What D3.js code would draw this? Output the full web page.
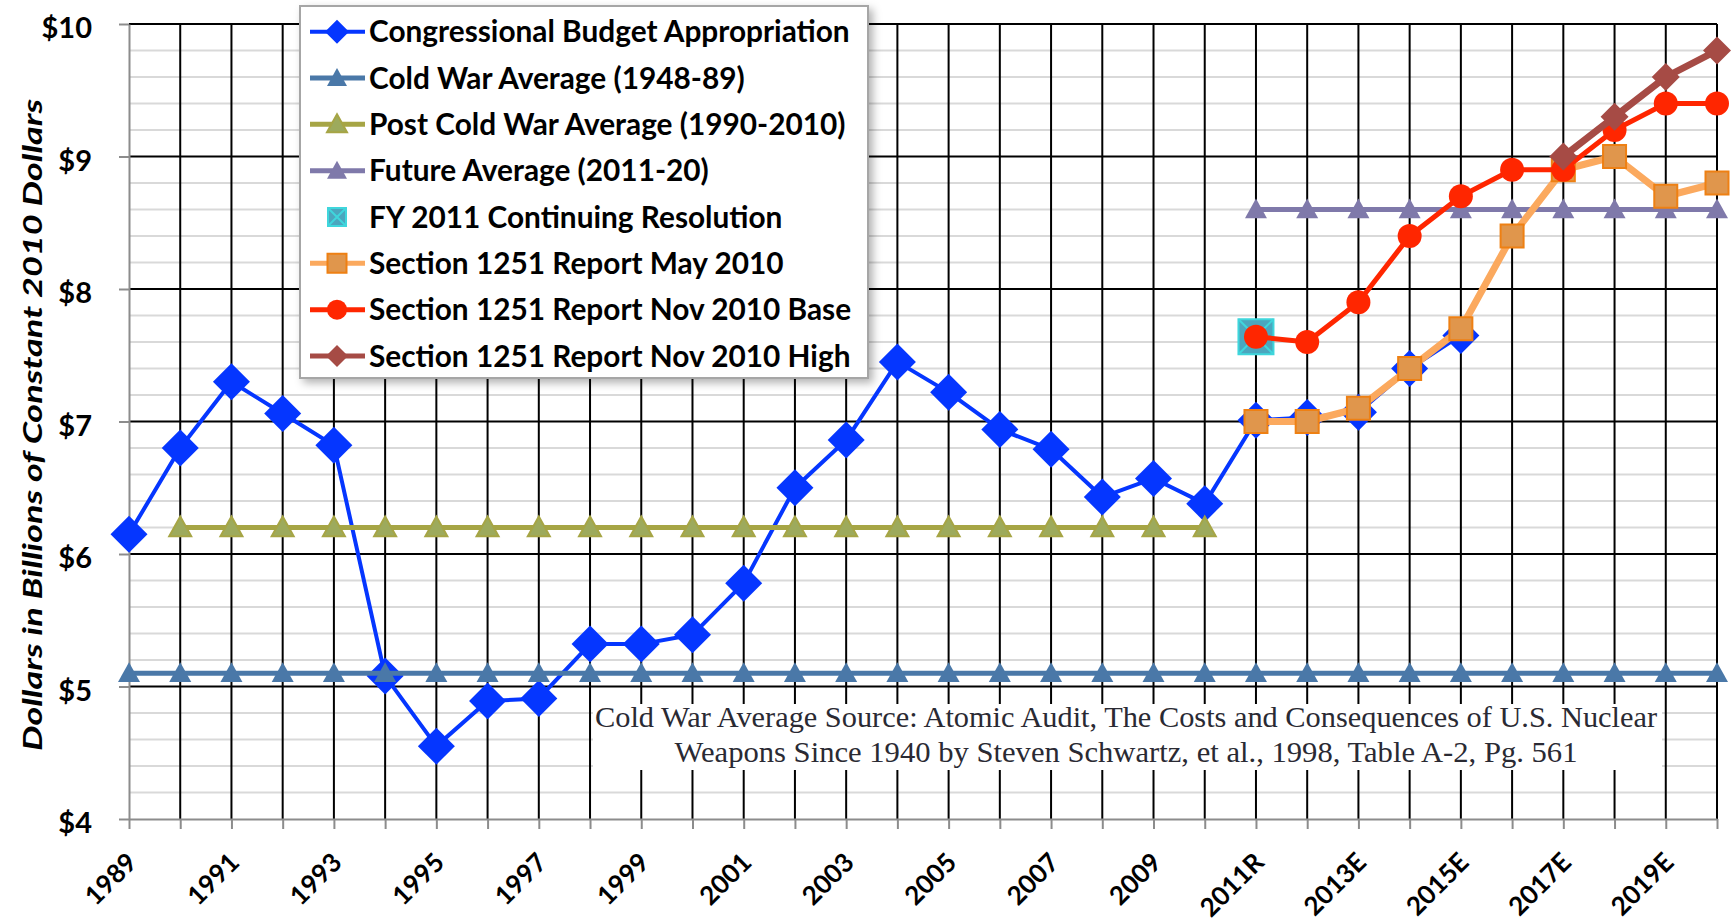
<!DOCTYPE html>
<html>
<head>
<meta charset="utf-8">
<script src="https://cdn.jsdelivr.net/npm/d3@7"></script>
<style>
  body { margin: 0; background: #fff; }
  svg text { font-family: Lato, "Open Sans", sans-serif; }
</style>
</head>
<body>
<svg id="chart" width="1731" height="922"></svg>
<script>
// categories (fiscal years, R = request, E = estimate)
const years = ["1989","1990","1991","1992","1993","1994","1995","1996","1997","1998","1999",
  "2000","2001","2002","2003","2004","2005","2006","2007","2008","2009","2010",
  "2011R","2012E","2013E","2014E","2015E","2016E","2017E","2018E","2019E","2020E"];

// billions of constant 2010 dollars, null where the series has no value
const congressional = [6.15, 6.80, 7.30, 7.06, 6.82, 5.08, 4.55, 4.89, 4.91, 5.32, 5.32,
  5.39, 5.78, 6.50, 6.86, 7.45, 7.22, 6.94, 6.79, 6.43, 6.57, 6.38,
  7.01, 7.03, 7.07, 7.40, 7.65, null, null, null, null, null];
const coldWarAvg = [5.1, 5.1, 5.1, 5.1, 5.1, 5.1, 5.1, 5.1, 5.1, 5.1, 5.1,
  5.1, 5.1, 5.1, 5.1, 5.1, 5.1, 5.1, 5.1, 5.1, 5.1, 5.1,
  5.1, 5.1, 5.1, 5.1, 5.1, 5.1, 5.1, 5.1, 5.1, 5.1];
const postColdWarAvg = [null, 6.2, 6.2, 6.2, 6.2, 6.2, 6.2, 6.2, 6.2, 6.2, 6.2,
  6.2, 6.2, 6.2, 6.2, 6.2, 6.2, 6.2, 6.2, 6.2, 6.2, 6.2,
  null, null, null, null, null, null, null, null, null, null];
const futureAvg = [null, null, null, null, null, null, null, null, null, null, null,
  null, null, null, null, null, null, null, null, null, null, null,
  8.6, 8.6, 8.6, 8.6, 8.6, 8.6, 8.6, 8.6, 8.6, 8.6];
const fy2011CR = [null, null, null, null, null, null, null, null, null, null, null,
  null, null, null, null, null, null, null, null, null, null, null,
  7.64, null, null, null, null, null, null, null, null, null];
const reportMay2010 = [null, null, null, null, null, null, null, null, null, null, null,
  null, null, null, null, null, null, null, null, null, null, null,
  7.0, 7.0, 7.1, 7.4, 7.7, 8.4, 8.9, 9.0, 8.7, 8.8];
const reportNovBase = [null, null, null, null, null, null, null, null, null, null, null,
  null, null, null, null, null, null, null, null, null, null, null,
  7.64, 7.6, 7.9, 8.4, 8.7, 8.9, 8.9, 9.2, 9.4, 9.4];
const reportNovHigh = [null, null, null, null, null, null, null, null, null, null, null,
  null, null, null, null, null, null, null, null, null, null, null,
  null, null, null, null, null, null, 9.0, 9.3, 9.6, 9.8];

const seriesNames = ["Congressional Budget Appropriation", "Cold War Average (1948-89)",
  "Post Cold War Average (1990-2010)", "Future Average (2011-20)", "FY 2011 Continuing Resolution",
  "Section 1251 Report May 2010", "Section 1251 Report Nov 2010 Base", "Section 1251 Report Nov 2010 High"];

const noteLines = ["Cold War Average Source: Atomic Audit, The Costs and Consequences of U.S. Nuclear",
  "Weapons Since 1940 by Steven Schwartz, et al., 1998, Table A-2, Pg. 561"];

// styling for each series (same order as seriesNames)
const series = [
  { values: congressional, line: "#0536FF", width: 4, shape: "diamond", size: 37, fill: "#0536FF", stroke: "none", lsize: 24 },
  { values: coldWarAvg, line: "#4A78A8", width: 5, shape: "triangle", size: 22, fill: "#4A78A8", stroke: "none", lsize: 20 },
  { values: postColdWarAvg, line: "#A6A545", width: 5, shape: "triangle", size: 22, fill: "#9DAA5C", stroke: "#A6A545", lsize: 20 },
  { values: futureAvg, line: "#7F79AA", width: 5, shape: "triangle", size: 22, fill: "#7F79AA", stroke: "none", lsize: 20 },
  { values: fy2011CR, line: null, width: 0, shape: "xsquare", size: 35, fill: "#4BA6BE", stroke: "#3FD6DC", lsize: 18 },
  { values: reportMay2010, line: "#FBA95E", width: 7, shape: "square", size: 23, fill: "#E0964C", stroke: "#EE8013", lsize: 19 },
  { values: reportNovBase, line: "#FF2600", width: 5, shape: "circle", size: 24, fill: "#FF2600", stroke: "none", lsize: 20 },
  { values: reportNovHigh, line: "#A64B45", width: 7, shape: "diamond", size: 28, fill: "#A64B45", stroke: "none", lsize: 22 }
];

const svg = d3.select("#chart");
const x = d3.scalePoint().domain(years).range([129, 1717]);
const y = d3.scaleLinear().domain([4, 10]).range([819, 24]);

// marker path centred on 0,0; s is the overall width
function markerPath(shape, s) {
  const h = s / 2;
  if (shape === "diamond") return `M0,${-h}L${h},0L0,${h}L${-h},0Z`;
  if (shape === "triangle") return `M0,${-h}L${h},${h * 0.8}L${-h},${h * 0.8}Z`;
  if (shape === "circle") return `M${h},0A${h},${h} 0 1,1 ${-h},0A${h},${h} 0 1,1 ${h},0Z`;
  return `M${-h},${-h}H${h}V${h}H${-h}Z`;
}

function drawMarker(g, s, size) {
  g.append("path")
    .attr("d", markerPath(s.shape, size))
    .attr("fill", s.fill)
    .attr("stroke", s.stroke)
    .attr("stroke-width", 2);
  if (s.shape === "xsquare") {
    const h = size / 2;
    g.append("path")
      .attr("d", `M${-h},${-h}L${h},${h}M${h},${-h}L${-h},${h}`)
      .attr("stroke", s.stroke).attr("stroke-width", 2).attr("fill", "none");
  }
}

// ---- grid ----
const minorTicks = y.ticks(30).filter(v => Math.abs(v - Math.round(v)) > 1e-6);
svg.append("g").selectAll("line").data(minorTicks).join("line")
  .attr("x1", x.range()[0]).attr("x2", x.range()[1])
  .attr("y1", d => y(d)).attr("y2", d => y(d))
  .attr("stroke", "#D9D9D9").attr("stroke-width", 2);

svg.append("g").selectAll("line").data(years.slice(1)).join("line")
  .attr("x1", d => x(d)).attr("x2", d => x(d))
  .attr("y1", y(10)).attr("y2", y(4))
  .attr("stroke", "#000").attr("stroke-width", 2);

svg.append("g").selectAll("line").data(y.ticks(6).filter(v => v > 4)).join("line")
  .attr("x1", x.range()[0]).attr("x2", x.range()[1])
  .attr("y1", d => y(d)).attr("y2", d => y(d))
  .attr("stroke", "#000").attr("stroke-width", 2);

// ---- axes ----
const yAxis = svg.append("g")
  .attr("transform", `translate(${x.range()[0]},0)`)
  .call(d3.axisLeft(y).ticks(6).tickFormat(d => "$" + d).tickSize(10).tickSizeOuter(0).tickPadding(27));
yAxis.selectAll("text")
  .attr("font-size", 29).attr("font-weight", 700).attr("fill", "#000")
  .attr("dy", "0.47em");

const xAxis = svg.append("g")
  .attr("transform", `translate(0,${y(4)})`)
  .call(d3.axisBottom(x).tickSize(10).tickSizeOuter(0).tickFormat((d, i) => i % 2 === 0 ? d : ""));
xAxis.selectAll("text")
  .attr("font-size", 26).attr("font-weight", 700).attr("fill", "#000")
  .attr("text-anchor", "end").attr("x", 0).attr("y", 0).attr("dy", 0)
  .attr("transform", "translate(9,45) rotate(-45)");

[yAxis, xAxis].forEach(a => {
  a.select(".domain").attr("stroke", "#8C8C8C").attr("stroke-width", 2);
  a.selectAll(".tick line").attr("stroke", "#8C8C8C").attr("stroke-width", 2);
});

// ---- note box ----
const note = svg.append("g");
note.append("rect").attr("x", 593).attr("y", 704).attr("width", 1069).attr("height", 66).attr("fill", "#fff");
const noteWidths = [1062, 903];
note.selectAll("text").data(noteLines).join("text")
  .attr("x", 1126).attr("y", (d, i) => 727 + i * 35)
  .attr("text-anchor", "middle")
  .style("font-family", "'Liberation Serif', 'DejaVu Serif', serif")
  .attr("font-size", 29).attr("fill", "#2a2a33")
  .attr("textLength", (d, i) => noteWidths[i]).attr("lengthAdjust", "spacingAndGlyphs")
  .text(d => d);

// ---- series ----
series.forEach(s => {
  const g = svg.append("g");
  const pts = years.map((yr, i) => ({ yr, v: s.values[i] })).filter(p => p.v !== null);
  if (s.line) {
    g.append("path")
      .attr("d", d3.line().x(p => x(p.yr)).y(p => y(p.v))(pts))
      .attr("fill", "none").attr("stroke", s.line).attr("stroke-width", s.width)
      .attr("stroke-linejoin", "round");
  }
  pts.forEach(p => {
    const m = g.append("g").attr("transform", `translate(${x(p.yr)},${y(p.v)})`);
    drawMarker(m, s, s.size);
  });
});

// ---- legend ----
const defs = svg.append("defs");
const shadow = defs.append("filter").attr("id", "shadow").attr("x", "-10%").attr("y", "-10%").attr("width", "130%").attr("height", "130%");
shadow.append("feDropShadow").attr("dx", 4).attr("dy", 4).attr("stdDeviation", 4)
  .attr("flood-color", "#000").attr("flood-opacity", 0.3);

const legend = svg.append("g");
legend.append("rect").attr("x", 300).attr("y", 6).attr("width", 568).attr("height", 372)
  .attr("fill", "#fff").attr("stroke", "#A6A6A6").attr("stroke-width", 2).attr("filter", "url(#shadow)");

const rowY = d3.scalePoint().domain(seriesNames).range([31.7, 356]);
series.forEach((s, i) => {
  const row = legend.append("g").attr("transform", `translate(0,${rowY(seriesNames[i])})`);
  if (s.line) {
    row.append("line").attr("x1", 310).attr("x2", 365).attr("y1", 0).attr("y2", 0)
      .attr("stroke", s.line).attr("stroke-width", Math.min(s.width, 5));
  }
  const m = row.append("g").attr("transform", "translate(337,0)");
  drawMarker(m, s, s.lsize);
  row.append("text").attr("x", 369).attr("y", 0).attr("dy", "0.36em")
    .attr("font-size", 29.8).attr("font-weight", 700).attr("fill", "#000")
    .text(seriesNames[i]);
});

// ---- y title ----
svg.append("text")
  .attr("transform", "translate(42,425) rotate(-90)")
  .attr("text-anchor", "middle")
  .attr("font-size", 27).attr("font-weight", 700).attr("font-style", "italic").attr("fill", "#000")
  .attr("textLength", 652).attr("lengthAdjust", "spacingAndGlyphs")
  .text("Dollars in Billions of Constant 2010 Dollars");
</script>
</body>
</html>
